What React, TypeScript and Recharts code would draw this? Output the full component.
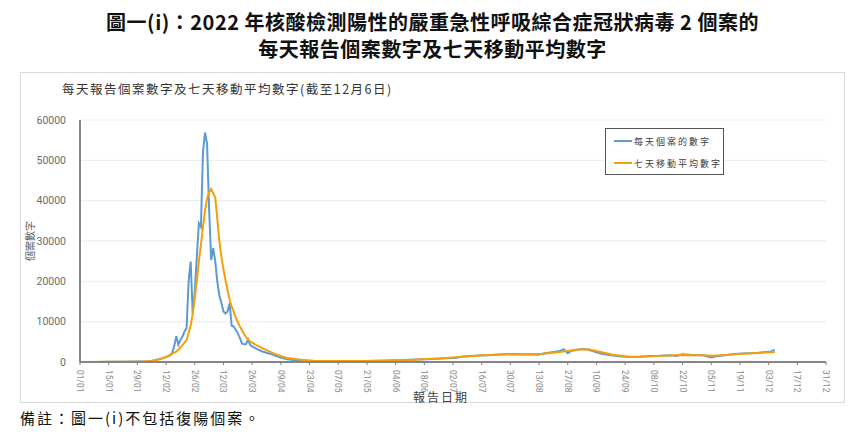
import React from 'react';
import { LineChart, Line, XAxis, YAxis, CartesianGrid } from 'recharts';

// x axis tick labels (every 14 days)
const tickLabels = [
  '01/01', '15/01', '29/01', '12/02', '26/02', '12/03', '26/03', '09/04', '23/04',
  '07/05', '21/05', '04/06', '18/06', '02/07', '16/07', '30/07', '13/08', '27/08',
  '10/09', '24/09', '08/10', '22/10', '05/11', '19/11', '03/12', '17/12', '31/12',
];
const yTicks = [0, 10000, 20000, 30000, 40000, 50000, 60000];

// daily reported cases
const dailyDates = [
  '01/01', '08/01', '15/01', '22/01', '29/01', '01/02', '04/02', '07/02', '10/02', '13/02',
  '14/02', '15/02', '16/02', '17/02', '18/02', '19/02', '20/02', '21/02', '22/02', '23/02',
  '24/02', '25/02', '26/02', '27/02', '28/02', '01/03', '02/03', '03/03', '04/03', '05/03',
  '06/03', '07/03', '08/03', '09/03', '10/03', '11/03', '12/03', '13/03', '14/03', '15/03',
  '16/03', '17/03', '18/03', '19/03', '20/03', '21/03', '22/03', '23/03', '24/03', '25/03',
  '26/03', '28/03', '31/03', '04/04', '08/04', '12/04', '16/04', '20/04', '25/04', '01/05',
  '10/05', '20/05', '28/05', '05/06', '12/06', '18/06', '24/06', '29/06', '03/07', '07/07',
  '11/07', '15/07', '19/07', '23/07', '27/07', '31/07', '04/08', '08/08', '12/08', '16/08',
  '20/08', '23/08', '25/08', '27/08', '29/08', '01/09', '04/09', '07/09', '10/09', '13/09',
  '17/09', '21/09', '26/09', '01/10', '06/10', '11/10', '16/10', '19/10', '22/10', '27/10',
  '01/11', '05/11', '08/11', '12/11', '16/11', '20/11', '24/11', '28/11', '02/12', '04/12',
  '06/12',
];
const dailyCases = [
  10, 20, 40, 90, 130, 100, 180, 500, 900, 1400,
  1600, 2300, 4000, 6400, 4300, 5500, 6300, 7600, 8400, 20000,
  24900, 12000, 17500, 26000, 34400, 33500, 52000, 56900, 54000, 38000,
  25300, 28200, 24900, 19900, 16500, 14600, 12500, 12000, 12500, 14600,
  9000, 8800, 8000, 7100, 6000, 4600, 4400, 4400, 5600, 4200,
  3900, 3300, 2600, 2000, 1200, 700, 450, 300, 250, 230,
  250, 270, 320, 450, 550, 700, 800, 900, 1000, 1350,
  1500, 1600, 1700, 1800, 1900, 2000, 1850, 1950, 1800, 2150,
  2500, 2700, 3200, 2200, 2800, 3100, 3200, 2900, 2400, 2000,
  1700, 1400, 1250, 1300, 1500, 1550, 1700, 1500, 1900, 1750,
  1650, 1150, 1500, 1700, 2000, 2100, 2200, 2300, 2500, 2600,
  3000,
];

// seven-day moving average
const avgDates = [
  '01/01', '20/01', '29/01', '05/02', '10/02', '13/02', '17/02', '20/02', '22/02', '24/02',
  '25/02', '26/02', '27/02', '28/02', '01/03', '02/03', '03/03', '04/03', '05/03', '06/03',
  '07/03', '08/03', '09/03', '10/03', '11/03', '12/03', '13/03', '14/03', '15/03', '16/03',
  '17/03', '18/03', '20/03', '22/03', '24/03', '26/03', '28/03', '01/04', '06/04', '12/04',
  '19/04', '25/04', '05/05', '20/05', '01/06', '15/06', '25/06', '05/07', '15/07', '25/07',
  '05/08', '15/08', '25/08', '02/09', '06/09', '12/09', '18/09', '25/09', '01/10', '10/10',
  '20/10', '30/10', '06/11', '15/11', '25/11', '06/12',
];
const avgCases = [
  10, 40, 90, 250, 800, 1500, 2550, 4200, 5450, 9000,
  12000, 16000, 20000, 25000, 29000, 33500, 37500, 40500, 42000, 42900,
  41800, 40800, 35500, 30000, 26000, 23000, 20300, 17800, 15500, 13700,
  12500, 11000, 8800, 7000, 5450, 4800, 4200, 3200, 2000, 1000,
  550, 320, 250, 260, 400, 600, 850, 1250, 1600, 1850,
  1950, 2050, 2600, 3100, 3150, 2500, 1800, 1350, 1300, 1500,
  1750, 1650, 1550, 1850, 2150, 2450,
];

const MONTH_DAYS = [31, 28, 31, 30, 31, 30, 31, 31, 30, 31, 30, 31];
const dayOfYear = (label: string) => {
  const [d, m] = label.split('/').map(Number);
  let n = d - 1;
  for (let i = 0; i < m - 1; i++) n += MONTH_DAYS[i];
  return n;
};

const dailyData = dailyDates.map((d, i) => ({ day: dayOfYear(d), value: dailyCases[i] }));
const avgData = avgDates.map((d, i) => ({ day: dayOfYear(d), value: avgCases[i] }));
const xTicks = tickLabels.map(dayOfYear);

const BLUE = '#5b9bd5';
const ORANGE = '#f5a00a';
const CJK = '"Noto Sans CJK TC", "Noto Sans", sans-serif';

const legendItems = [
  { name: '每天個案的數字', color: BLUE },
  { name: '七天移動平均數字', color: ORANGE },
];

const XTick = (props: any) => {
  const { x, y, payload } = props;
  const label = tickLabels[xTicks.indexOf(payload.value)];
  return (
    <text
      transform={`translate(${x},${y + 3}) rotate(90)`}
      textAnchor="start"
      dy="0.35em"
      fontSize={8.5}
      fill="#8a8a8a"
      fontFamily="Roboto, sans-serif"
    >
      {label}
    </text>
  );
};

export default function App() {
  return (
    <div style={{ position: 'absolute', left: 0, top: 0, width: 865, height: 436, background: '#fff', fontFamily: CJK }}>
      <div style={{ position: 'absolute', left: 0, width: 865, top: 8, textAlign: 'center', fontWeight: 700, fontSize: 20, lineHeight: '27px', letterSpacing: 0.5, color: '#111' }}>
        <div>圖一(i)：2022 年核酸檢測陽性的嚴重急性呼吸綜合症冠狀病毒 2 個案的</div>
        <div>每天報告個案數字及七天移動平均數字</div>
      </div>
      <div style={{ position: 'absolute', left: 20, top: 72, width: 825, height: 331, border: '1px solid #d9d9d9', boxSizing: 'border-box' }} />
      <div style={{ position: 'absolute', left: 62, top: 79, fontSize: 12.5, letterSpacing: 1.5, color: '#333' }}>
        每天報告個案數字及七天移動平均數字(截至12月6日)
      </div>
      <div style={{ position: 'absolute', left: 413, top: 390, fontSize: 12, lineHeight: '14px', letterSpacing: 2, color: '#404040' }}>報告日期</div>
      <div style={{ position: 'absolute', left: 20, top: 407, fontSize: 15, letterSpacing: 2, color: '#111' }}>
        備註：圖一(i)不包括復陽個案。
      </div>
      <div style={{ position: 'absolute', left: 0, top: 0 }}>
        <LineChart width={865} height={436} margin={{ top: 120, right: 39, bottom: 34, left: 20 }}>
          <CartesianGrid vertical={false} stroke="#ebebeb" />
          <XAxis
            dataKey="day"
            type="number"
            domain={[0, 364]}
            ticks={xTicks}
            interval={0}
            height={40}
            tick={<XTick />}
            tickLine={{ stroke: '#7f7f7f' }}
            tickSize={3}
            axisLine={{ stroke: '#868686', strokeWidth: 2 }}
          />
          <YAxis
            type="number"
            domain={[0, 60000]}
            ticks={yTicks}
            width={60}
            tickLine={false}
            tickMargin={8}
            axisLine={{ stroke: '#868686', strokeWidth: 2 }}
            tick={{ fontSize: 10.5, fill: '#6b6b6b', fontFamily: 'Roboto, sans-serif' }}
            label={{ value: '個案數字', angle: -90, position: 'insideLeft', offset: 10, style: { fontSize: 10, fill: '#595959', fontFamily: CJK, textAnchor: 'middle' } }}
          />
          <Line data={dailyData} dataKey="value" name="每天個案的數字" type="linear" stroke={BLUE} strokeWidth={2} dot={false} isAnimationActive={false} />
          <Line data={avgData} dataKey="value" name="七天移動平均數字" type="linear" stroke={ORANGE} strokeWidth={2} dot={false} isAnimationActive={false} />
        </LineChart>
      </div>
      <div
        style={{
          position: 'absolute',
          left: 605,
          top: 128,
          width: 119,
          height: 47,
          border: '1px solid #555',
          background: '#fff',
          fontSize: 9,
          color: '#404040',
          letterSpacing: 2,
          boxSizing: 'border-box',
          padding: '3px 0 0 8px',
        }}
      >
        {legendItems.map((it, i) => (
          <div key={it.name} style={{ display: 'flex', alignItems: 'center', height: 18, marginTop: i ? 4 : 0 }}>
            <span style={{ display: 'inline-block', width: 18, height: 2, background: it.color, marginRight: 2 }} />
            <span>{it.name}</span>
          </div>
        ))}
      </div>
    </div>
  );
}
